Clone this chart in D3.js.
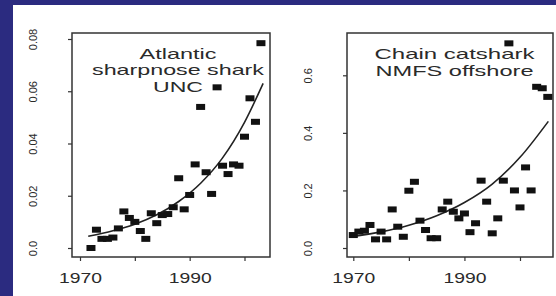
<!DOCTYPE html>
<html>
<head>
<meta charset="utf-8">
<script src="https://cdn.jsdelivr.net/npm/d3@7"></script>
<style>
  html, body { margin: 0; padding: 0; background: #2b2b80; }
  svg { display: block; }
  text { font-family: "Liberation Sans", Arial, sans-serif; fill: #2a2a2a; }
</style>
</head>
<body>
<svg id="chart" width="556" height="296"></svg>
<script>
// Atlantic sharpnose shark, UNC survey
const sharpYears = [1972,1973,1974,1975,1976,1977,1978,1979,1980,1981,1982,1983,1984,1985,1986,1987,
    1988,1989,1990,1991,1992,1993,1994,1995,1996,1997,1998,1999,2000,2001,2002,2003];
const sharpValues = [0.000,0.007,0.0035,0.0035,0.004,0.0075,0.014,0.0115,0.010,0.0065,0.0035,0.0133,0.0095,0.0126,0.013,0.0156,
    0.0267,0.0148,0.0203,0.032,0.054,0.029,0.0207,0.0615,0.0315,0.0283,0.032,0.0315,0.0426,0.0573,0.0483,0.0784];
const sharpFitYears = [1971.5,1976,1980,1984,1988,1992,1996,2000,2003.4];
const sharpFitValues = [0.0045,0.0066,0.0091,0.0127,0.0178,0.0248,0.0345,0.0481,0.063];
const sharpTicks = [0,0.02,0.04,0.06,0.08];
const sharpTickLabels = ["0.0","0.02","0.04","0.06","0.08"];
const sharpTitle = ["Atlantic","sharpnose shark","UNC"];

// Chain catshark, NMFS offshore survey
const chainYears = [1970,1971,1972,1973,1974,1975,1976,1977,1978,1979,1980,1981,1982,1983,1984,1985,1986,1987,
    1988,1989,1990,1991,1992,1993,1994,1995,1996,1997,1998,1999,2000,2001,2002,2003,2004,2005];
const chainValues = [0.045,0.057,0.060,0.080,0.030,0.057,0.030,0.134,0.074,0.039,0.199,0.230,0.095,0.0625,0.034,0.034,0.134,0.161,
    0.126,0.103,0.120,0.055,0.086,0.234,0.161,0.051,0.103,0.234,0.711,0.200,0.141,0.280,0.200,0.560,0.555,0.525];
const chainFitYears = [1969.6,1975,1980,1985,1990,1995,2000,2005.1];
const chainFitValues = [0.039,0.056,0.079,0.112,0.158,0.222,0.315,0.44];
const chainTicks = [0,0.2,0.4,0.6];
const chainTickLabels = ["0.0","0.2","0.4","0.6"];
const chainTitle = ["Chain catshark","NMFS offshore"];

const yearTicks = [1970,1980,1990,2000];
const yearTickLabels = ["1970","","1990",""];

const drawPanel = (svg, opt)=>{
    let box = opt.box;
    let xScale = d3.scaleLinear().domain([1970, 2000]).range(opt.xRange);
    let yScale = d3.scaleLinear().domain([0, opt.yMax]).range(opt.yRange);

    let g = svg.append("g");

    // x axis
    let xAxis = d3.axisBottom(xScale)
        .tickValues(yearTicks)
        .tickSize(4)
        .tickPadding(11)
        .tickFormat((d,i)=>yearTickLabels[i]);

    let gx = g.append("g")
        .attr("transform", "translate(0," + box.bottom + ")")
        .call(xAxis);
    gx.select(".domain").remove();
    gx.selectAll(".tick line").attr("stroke", "#333").attr("stroke-width", 1.2);
    gx.selectAll("text")
        .attr("font-size", "15px")
        .attr("dy", "0.71em")
        .attr("textLength", (d,i)=>yearTickLabels[i] ? 43 : null)
        .attr("lengthAdjust", "spacingAndGlyphs");

    // y axis
    let yAxis = d3.axisLeft(yScale)
        .tickValues(opt.ticks)
        .tickSize(4)
        .tickFormat((d,i)=>opt.tickLabels[i]);

    let gy = g.append("g")
        .attr("transform", "translate(" + box.left + ",0)")
        .call(yAxis);
    gy.select(".domain").remove();
    gy.selectAll(".tick line").attr("stroke", "#333").attr("stroke-width", 1.2);
    gy.selectAll("text")
        .attr("font-size", "11px")
        .attr("text-anchor", "middle")
        .attr("x", 0)
        .attr("dy", "0.35em")
        .attr("transform", "translate(" + (-opt.labelOffset) + ",0) rotate(-90)");

    // box
    g.append("rect")
        .attr("x", box.left)
        .attr("y", box.top)
        .attr("width", box.right - box.left)
        .attr("height", box.bottom - box.top)
        .attr("fill", "none")
        .attr("stroke", "#333")
        .attr("stroke-width", 1.5);

    // fitted curve
    let line = d3.line()
        .x((d)=>xScale(d[0]))
        .y((d)=>yScale(d[1]))
        .curve(d3.curveMonotoneX);

    g.append("path")
        .datum(opt.fitYears.map((yr,i)=>[yr, opt.fitValues[i]]))
        .attr("d", line)
        .attr("fill", "none")
        .attr("stroke", "#222")
        .attr("stroke-width", 1.6);

    // points
    let w = 9, h = 6;
    g.selectAll("rect.pt")
        .data(opt.years.map((yr,i)=>[yr, opt.values[i]]))
        .enter()
        .append("rect")
        .attr("class", "pt")
        .attr("x", (d)=>xScale(d[0]) - w/2)
        .attr("y", (d)=>yScale(d[1]) - h/2)
        .attr("width", w)
        .attr("height", h)
        .attr("fill", "#111");

    // label
    g.selectAll("text.title")
        .data(opt.title)
        .enter()
        .append("text")
        .attr("class", "title")
        .attr("x", opt.titleX)
        .attr("y", (d,i)=>opt.titleY + i*16.6)
        .attr("text-anchor", "middle")
        .attr("font-size", "15px")
        .attr("textLength", (d,i)=>opt.titleLengths[i])
        .attr("lengthAdjust", "spacingAndGlyphs")
        .text((d)=>d);
}

const drawChart = ()=>{
    let svg = d3.select("#chart");

    svg.append("rect")
        .attr("x", 13).attr("y", 5)
        .attr("width", 543).attr("height", 291)
        .attr("fill", "#fff");

    drawPanel(svg, {
        box: {left: 72, right: 270, top: 33, bottom: 257},
        xRange: [80, 244.5],
        yRange: [248, 39],
        yMax: 0.08,
        ticks: sharpTicks,
        tickLabels: sharpTickLabels,
        labelOffset: 39,
        years: sharpYears,
        values: sharpValues,
        fitYears: sharpFitYears,
        fitValues: sharpFitValues,
        title: sharpTitle,
        titleX: 178,
        titleY: 58.5,
        titleLengths: [77, 172, 50]
    });

    drawPanel(svg, {
        box: {left: 347, right: 553, top: 33, bottom: 257},
        xRange: [353.3, 520],
        yRange: [248, 75.3],
        yMax: 0.6,
        ticks: chainTicks,
        tickLabels: chainTickLabels,
        labelOffset: 39.3,
        years: chainYears,
        values: chainValues,
        fitYears: chainFitYears,
        fitValues: chainFitValues,
        title: chainTitle,
        titleX: 454.5,
        titleY: 59,
        titleLengths: [160, 158]
    });
}

window.onload = function(){
    drawChart();
}
</script>
</body>
</html>
